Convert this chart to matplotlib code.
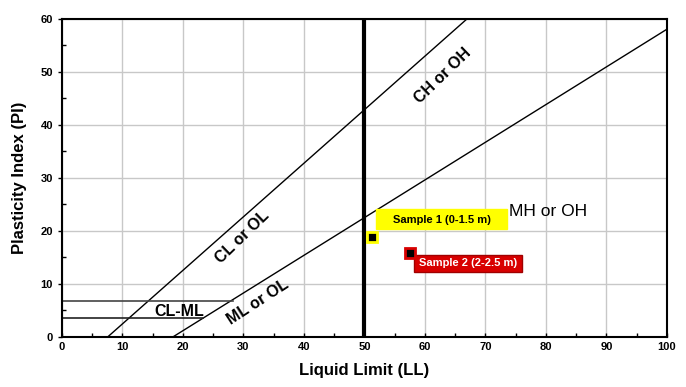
import numpy as np
import matplotlib
matplotlib.use("Agg")
import matplotlib.pyplot as plt
from matplotlib.patches import Rectangle

plt.rcParams['font.family'] = ['Liberation Sans', 'DejaVu Sans']

# boundary lines (LL, PI end points)
upper_ll = [7.6, 67.4]
upper_pi = [0, 60.4]
aline_ll = [18.4, 100]
aline_pi = [0, 58.0]
clml_top_ll = [0, 28.3]
clml_top_pi = [6.8, 6.8]
clml_bot_ll = [0, 23.3]
clml_bot_pi = [3.5, 3.5]
ll_split = 50

# samples
sample_names = ['Sample 1 (0-1.5 m)', 'Sample 2 (2-2.5 m)']
sample_ll = [51.2, 57.5]
sample_pi = [18.9, 15.8]
sample_colors = ['#ffff00', '#d80000']
sample_edges = ['#ffff00', '#a00000']
sample_text_colors = ['black', 'white']

fig = plt.figure(figsize=(6.86, 3.87), dpi=100)
ax = fig.add_axes([0.0904, 0.13, 0.8816, 0.8217])

ax.set_xlim(0, 100)
ax.set_ylim(0, 60)
ax.set_xticks(np.arange(0, 101, 10))
ax.set_yticks(np.arange(0, 61, 10))
ax.set_xticks(np.arange(0, 101, 5), minor=True)
ax.set_yticks(np.arange(0, 61, 5), minor=True)
ax.grid(True, which='major', color='#c8c8c8', linewidth=1.0)
ax.set_axisbelow(True)
for s in ax.spines.values():
    s.set_linewidth(1.5)
    s.set_color('black')
ax.tick_params(axis='x', which='both', direction='in', length=3, width=1)
ax.tick_params(axis='y', which='major', direction='out', length=3, width=1)
ax.tick_params(axis='y', which='minor', direction='in', length=3, width=1)
for lab in ax.get_xticklabels() + ax.get_yticklabels():
    lab.set_fontsize(8)
    lab.set_fontweight('bold')

ax.plot(upper_ll, upper_pi, color='black', lw=1.0)
ax.plot(aline_ll, aline_pi, color='black', lw=1.0)
ax.plot(clml_top_ll, clml_top_pi, color='#444444', lw=1.2)
ax.plot(clml_bot_ll, clml_bot_pi, color='#222222', lw=1.2)
ax.axvline(ll_split, color='black', lw=3)

ax.text(63.0, 49.2, 'CH or OH', rotation=44, ha='center', va='center',
        fontsize=11.5, fontweight='bold')
ax.text(29.9, 18.8, 'CL or OL', rotation=44, ha='center', va='center',
        fontsize=11.5, fontweight='bold')
ax.text(32.4, 6.5, 'ML or OL', rotation=33, ha='center', va='center',
        fontsize=11.5, fontweight='bold')
ax.text(19.4, 4.8, 'CL-ML', ha='center', va='center',
        fontsize=11.5, fontweight='bold')
ax.text(80.3, 23.7, 'MH or OH', ha='center', va='center', fontsize=12.5)

# label boxes: (LL left, PI bottom, width, height) and text centre
label_boxes = [(51.85, 20.3, 21.65, 3.8), (58.2, 12.3, 17.9, 3.1)]
label_pos = [(62.75, 22.0), (67.2, 13.85)]
for i in range(len(sample_names)):
    ax.plot(sample_ll[i], sample_pi[i], marker='s', markersize=6.5,
            markerfacecolor='black', markeredgecolor=sample_colors[i],
            markeredgewidth=2, zorder=5)
    x0, y0, w, h = label_boxes[i]
    ax.add_patch(Rectangle((x0, y0), w, h, facecolor=sample_colors[i],
                           edgecolor=sample_edges[i], lw=1, zorder=4))
    ax.text(label_pos[i][0], label_pos[i][1], sample_names[i],
            ha='center', va='center', fontsize=8, fontweight='bold',
            color=sample_text_colors[i], zorder=6)

ax.set_xlabel('Liquid Limit (LL)', fontsize=12, fontweight='bold', labelpad=8)
ax.set_ylabel('Plasticity Index (PI)', fontsize=12, fontweight='bold', labelpad=10)

fig.savefig('out.png', dpi=100)
